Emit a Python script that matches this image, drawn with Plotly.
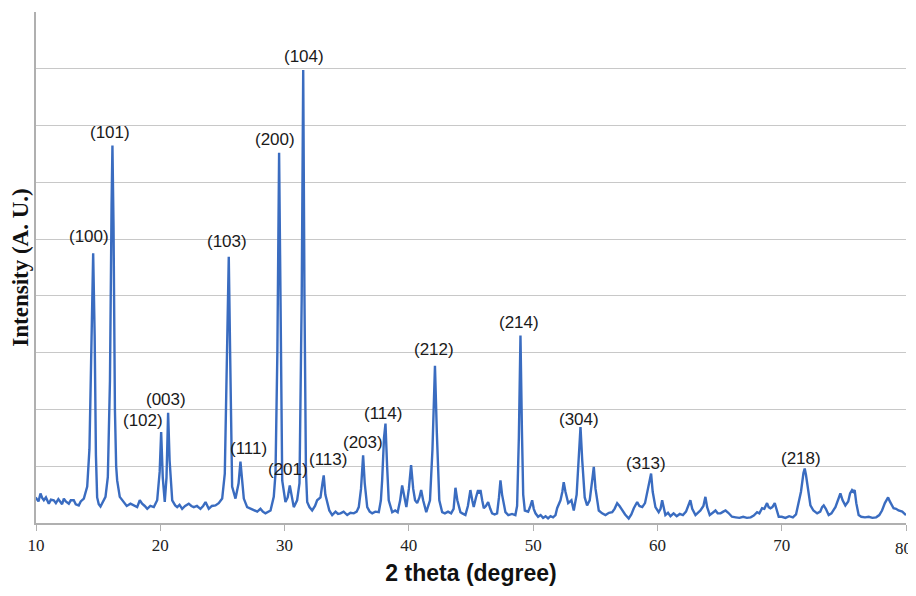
import numpy as np
import plotly.graph_objects as go

# ---- data (2θ in degrees, intensity in arbitrary units) ----
two_theta = [
    10.0, 10.04, 10.2, 10.36, 10.5, 10.63, 10.8, 11.03, 11.2, 11.43,
    11.6, 11.8, 11.97, 12.1, 12.24, 12.4, 12.64, 12.8, 13.04, 13.2,
    13.44, 13.6, 13.85, 14.12, 14.3, 14.45, 14.6, 14.72, 14.82, 14.92,
    15.05, 15.19, 15.4, 15.59, 15.78, 15.95, 16.08, 16.15, 16.24, 16.35,
    16.45, 16.53, 16.74, 17.06, 17.3, 17.6, 17.9, 18.14, 18.35, 18.54,
    18.75, 18.95, 19.2, 19.48, 19.75, 19.95, 20.07, 20.2, 20.36, 20.5,
    20.63, 20.75, 20.96, 21.2, 21.36, 21.55, 21.76, 22.0, 22.29, 22.5,
    22.7, 22.95, 23.23, 23.45, 23.64, 23.9, 24.15, 24.44, 24.7, 24.98,
    25.19, 25.38, 25.51, 25.62, 25.78, 26.05, 26.3, 26.45, 26.58, 26.72,
    26.99, 27.25, 27.52, 27.8, 28.06, 28.25, 28.46, 28.65, 28.87, 29.13,
    29.27, 29.42, 29.56, 29.68, 29.81, 30.07, 30.25, 30.42, 30.58, 30.74,
    31.01, 31.2, 31.38, 31.5, 31.6, 31.72, 31.82, 32.0, 32.22, 32.45,
    32.62, 32.89, 33.05, 33.15, 33.28, 33.43, 33.6, 33.83, 34.1, 34.3,
    34.5, 34.75, 35.04, 35.3, 35.57, 35.8, 35.97, 36.15, 36.32, 36.45,
    36.65, 36.85, 37.05, 37.3, 37.58, 37.75, 37.85, 38.0, 38.12, 38.25,
    38.38, 38.66, 38.9, 39.1, 39.3, 39.46, 39.62, 39.8, 40.0, 40.18,
    40.35, 40.5, 40.67, 40.85, 40.99, 41.15, 41.4, 41.7, 41.9, 42.1,
    42.25, 42.45, 42.68, 42.9, 43.15, 43.4, 43.6, 43.75, 43.9, 44.15,
    44.3, 44.55, 44.75, 44.95, 45.1, 45.22, 45.4, 45.57, 45.66, 45.76,
    45.9, 46.03, 46.2, 46.38, 46.55, 46.7, 46.9, 47.1, 47.25, 47.37,
    47.5, 47.77, 48.0, 48.3, 48.57, 48.71, 48.85, 48.98, 49.1, 49.2,
    49.33, 49.6, 49.78, 49.92, 50.05, 50.19, 50.4, 50.6, 50.8, 51.0,
    51.2, 51.4, 51.6, 51.8, 51.93, 52.1, 52.2, 52.35, 52.46, 52.6,
    52.82, 53.08, 53.27, 53.5, 53.65, 53.81, 53.95, 54.15, 54.34, 54.55,
    54.75, 54.88, 55.02, 55.28, 55.55, 55.82, 56.1, 56.36, 56.55, 56.76,
    56.95, 57.16, 57.4, 57.69, 57.9, 58.1, 58.37, 58.55, 58.78, 59.0,
    59.18, 59.35, 59.49, 59.62, 59.84, 60.1, 60.25, 60.38, 60.5, 60.64,
    60.85, 61.05, 61.3, 61.55, 61.8, 62.05, 62.3, 62.5, 62.65, 62.8,
    63.06, 63.25, 63.46, 63.7, 63.86, 64.0, 64.21, 64.45, 64.67, 64.85,
    65.08, 65.3, 65.48, 65.7, 66.0, 66.3, 66.6, 66.9, 67.2, 67.5,
    67.75, 68.02, 68.2, 68.42, 68.6, 68.82, 68.95, 69.09, 69.25, 69.44,
    69.6, 69.76, 70.0, 70.3, 70.6, 70.9, 71.15, 71.37, 71.55, 71.75,
    71.85, 71.95, 72.05, 72.2, 72.31, 72.55, 72.85, 73.1, 73.25, 73.38,
    73.55, 73.78, 74.0, 74.32, 74.5, 74.72, 74.9, 75.12, 75.35, 75.5,
    75.66, 75.77, 75.87, 76.0, 76.19, 76.4, 76.7, 77.0, 77.3, 77.6,
    77.85, 78.07, 78.3, 78.45, 78.56, 78.7, 79.0, 79.2, 79.4, 79.7,
    79.95, 80.0,
]
intensity = [
    42, 43, 38, 52, 44, 40, 45, 34, 41, 40,
    35, 42, 37, 33, 43, 38, 34, 40, 40, 33,
    31, 38, 43, 64, 130, 300, 475, 330, 120, 45,
    33, 29, 38, 46, 81, 250, 560, 665, 520, 200,
    100, 75, 46, 37, 30, 34, 30, 28, 40, 34,
    30, 25, 30, 28, 40, 90, 160, 80, 37, 80,
    194, 110, 40, 31, 28, 32, 25, 30, 34, 30,
    28, 30, 25, 30, 37, 25, 30, 31, 35, 43,
    87, 300, 469, 300, 64, 43, 70, 108, 70, 43,
    28, 25, 22, 20, 25, 20, 17, 20, 22, 46,
    87, 300, 652, 380, 75, 37, 45, 66, 45, 28,
    40, 70, 400, 798, 400, 90, 37, 28, 22, 30,
    40, 45, 70, 84, 50, 34, 22, 14, 20, 16,
    17, 20, 14, 18, 17, 20, 28, 60, 119, 70,
    28, 20, 17, 20, 19, 40, 75, 150, 175, 100,
    40, 19, 22, 19, 40, 66, 45, 28, 60, 102,
    60, 40, 35, 45, 58, 40, 19, 40, 130, 277,
    160, 40, 19, 17, 20, 17, 25, 62, 40, 19,
    17, 14, 30, 58, 40, 28, 45, 58, 52, 58,
    40, 26, 30, 37, 25, 17, 15, 17, 45, 75,
    50, 19, 14, 16, 14, 30, 150, 330, 160, 50,
    22, 20, 30, 40, 25, 17, 11, 14, 9, 12,
    8, 12, 10, 14, 26, 35, 40, 55, 72, 55,
    35, 40, 22, 50, 110, 169, 110, 45, 31, 40,
    75, 99, 60, 22, 17, 14, 18, 19, 25, 35,
    30, 22, 15, 8, 15, 26, 37, 30, 28, 35,
    52, 70, 87, 55, 28, 19, 25, 40, 25, 14,
    18, 12, 17, 12, 16, 14, 20, 30, 40, 25,
    14, 18, 22, 30, 46, 28, 14, 18, 22, 17,
    17, 20, 22, 18, 11, 10, 9, 11, 9, 10,
    13, 19, 17, 26, 25, 35, 28, 26, 28, 35,
    22, 11, 11, 9, 12, 10, 15, 35, 55, 88,
    96, 85, 69, 45, 31, 22, 17, 20, 28, 31,
    25, 14, 17, 28, 40, 52, 40, 31, 38, 52,
    58, 55, 58, 35, 14, 11, 10, 11, 9, 10,
    14, 22, 35, 42, 45, 38, 26, 25, 22, 20,
    14, 14,
]

peak_labels = ["(100)", "(101)", "(102)", "(003)", "(103)", "(111)", "(200)", "(201)", "(104)",
               "(113)", "(203)", "(114)", "(212)", "(214)", "(304)", "(313)", "(218)"]
peak_theta = [14.6, 16.15, 20.07, 20.63, 25.51, 26.45, 29.56, 30.42, 31.5,
              33.15, 36.32, 38.12, 42.1, 48.98, 53.81, 59.49, 71.85]

x_ticks = [10, 20, 30, 40, 50, 60, 70, 80]

# label offsets in pixels (style only)
label_dx = [-4, -2, -18, -2, -2, 8, -4, -2, 1, 4, 0, -2, -1, -1, -2, -5, -4]
label_dy = [17, 13, 12, 13, 15, 13, 13, 16, 13, 16, 13, 10, 16, 13, 8, 10, 10]

tick_font = dict(family="Liberation Serif, serif", size=17, color="#222")

fig = go.Figure()
fig.add_trace(go.Scatter(
    x=two_theta, y=intensity, mode="lines",
    line=dict(color="#3a6cc0", width=2.4),
    hoverinfo="skip", showlegend=False,
))

annotations = []
for lab, th, dx, dy in zip(peak_labels, peak_theta, label_dx, label_dy):
    yv = float(np.interp(th, two_theta, intensity))
    annotations.append(dict(
        x=th, y=yv, xref="x", yref="y", text=lab, showarrow=False,
        xanchor="center", yanchor="middle", xshift=dx, yshift=dy,
        font=dict(family="Liberation Sans, Arial, sans-serif", size=17, color="#1a1a1a"),
    ))

# last tick label drawn as an annotation so that it is not hidden at the edge
annotations.append(dict(
    x=x_ticks[-1], y=0, xref="x", yref="paper", text=str(x_ticks[-1]),
    showarrow=False, xanchor="right", yanchor="middle", xshift=8, yshift=-25,
    font=tick_font,
))

# the page body adds an 8px offset, so the figure is smaller than the window
fig.update_layout(
    width=908, height=580,
    margin=dict(l=28, r=10, t=4, b=65),
    paper_bgcolor="white", plot_bgcolor="white",
    annotations=annotations,
    xaxis=dict(
        range=[10, 80], tickvals=x_ticks,
        ticktext=[str(v) for v in x_ticks[:-1]] + [""],
        ticks="outside", ticklen=6, tickcolor="#b0b0b0", tickwidth=1,
        showline=True, linecolor="#b0b0b0", linewidth=1.5,
        showgrid=False, zeroline=False, automargin=False,
        tickfont=tick_font,
        title=dict(text="2 theta (degree)", standoff=11,
                   font=dict(family="Liberation Sans, Arial, sans-serif", size=23,
                             color="#111", weight="bold")),
    ),
    yaxis=dict(
        range=[0, 900], dtick=100, showticklabels=False, ticks="",
        showgrid=True, gridcolor="#c8c8c8", gridwidth=1.3,
        showline=True, linecolor="#b0b0b0", linewidth=1.5, zeroline=False,
        automargin=False,
        title=dict(text="Intensity (A. U.)", standoff=4,
                   font=dict(family="Liberation Serif, serif", size=23,
                             color="#111", weight="bold")),
    ),
)

fig.write_html("out.html", config={"displayModeBar": False})
